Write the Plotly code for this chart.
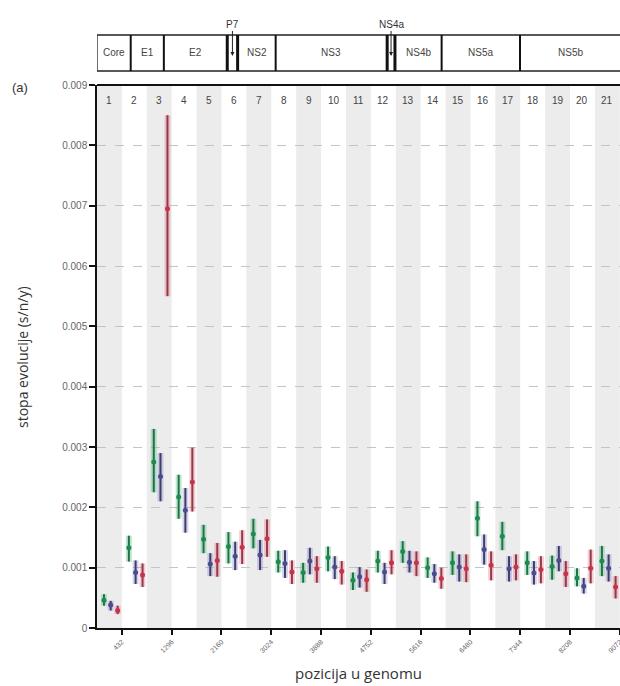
import plotly.graph_objects as go

# Genomic windows (each window = 432 nt), numbered 1..21
window_size = 432
window_ids = list(range(1, 22))

# Evolutionary rate (subst./nt/year): posterior mean with lower / upper bounds
rate_green = [0.00046, 0.00133, 0.00275, 0.00217, 0.00147, 0.00135, 0.00156, 0.00110, 0.00092, 0.00117, 0.00079,
              0.00111, 0.00127, 0.00100, 0.00108, 0.00182, 0.00152, 0.00108, 0.00102, 0.00083, 0.00111]
low_green = [0.00037, 0.00110, 0.00225, 0.00181, 0.00124, 0.00107, 0.00132, 0.00092, 0.00075, 0.00094, 0.00063,
             0.00092, 0.00108, 0.00083, 0.00088, 0.00152, 0.00129, 0.00088, 0.00080, 0.00069, 0.00086]
high_green = [0.00056, 0.00153, 0.00330, 0.00254, 0.00171, 0.00159, 0.00181, 0.00128, 0.00108, 0.00135, 0.00092,
              0.00128, 0.00144, 0.00117, 0.00127, 0.00210, 0.00176, 0.00127, 0.00120, 0.00099, 0.00136]

rate_blue = [0.00038, 0.00092, 0.00251, 0.00195, 0.00106, 0.00119, 0.00121, 0.00107, 0.00111, 0.00101, 0.00085,
             0.00093, 0.00109, 0.00090, 0.00101, 0.00130, 0.00098, 0.00091, 0.00112, 0.00069, 0.00099]
low_blue = [0.00029, 0.00073, 0.00210, 0.00158, 0.00086, 0.00096, 0.00096, 0.00083, 0.00089, 0.00081, 0.00067,
            0.00073, 0.00092, 0.00075, 0.00077, 0.00105, 0.00077, 0.00072, 0.00094, 0.00057, 0.00077]
high_blue = [0.00045, 0.00112, 0.00290, 0.00232, 0.00124, 0.00143, 0.00146, 0.00129, 0.00133, 0.00119, 0.00101,
             0.00108, 0.00128, 0.00106, 0.00122, 0.00155, 0.00119, 0.00111, 0.00136, 0.00083, 0.00122]

rate_red = [0.00029, 0.00088, 0.00695, 0.00242, 0.00112, 0.00134, 0.00148, 0.00093, 0.00098, 0.00094, 0.00080,
            0.00108, 0.00108, 0.00082, 0.00098, 0.00104, 0.00101, 0.00097, 0.00090, 0.00099, 0.00068]
low_red = [0.00023, 0.00068, 0.00550, 0.00193, 0.00085, 0.00106, 0.00118, 0.00073, 0.00075, 0.00072, 0.00060,
           0.00089, 0.00086, 0.00065, 0.00076, 0.00079, 0.00079, 0.00074, 0.00068, 0.00074, 0.00049]
high_red = [0.00037, 0.00107, 0.00850, 0.00299, 0.00141, 0.00162, 0.00180, 0.00112, 0.00119, 0.00111, 0.00097,
            0.00129, 0.00127, 0.00100, 0.00122, 0.00127, 0.00122, 0.00119, 0.00111, 0.00130, 0.00086]

# Axis ticks (genome position)
x_ticks = [432, 1296, 2160, 3024, 3888, 4752, 5616, 6480, 7344, 8208, 9072]
y_ticks = [0, 0.001, 0.002, 0.003, 0.004, 0.005, 0.006, 0.007, 0.008, 0.009]
y_tick_text = ["0", "0.001", "0.002", "0.003", "0.004", "0.005", "0.006", "0.007", "0.008", "0.009"]

# Gene map: boundaries (nt) and names
gene_names = ["Core", "E1", "E2", "P7", "NS2", "NS3", "NS4a", "NS4b", "NS5a", "NS5b"]
gene_starts = [0, 585, 1160, 2260, 2440, 3100, 5035, 5170, 5980, 7340]
gene_end = 9100
small_genes = ["P7", "NS4a"]

X_MAX = 9075
Y_MAX = 0.009
LEFT = 97
PLOT_W = 620 - LEFT
PLOT_TOP, PLOT_BOTTOM = 85, 628
PLOT_H = PLOT_BOTTOM - PLOT_TOP


def paper_y(py):
    return (PLOT_BOTTOM - py) / PLOT_H


def paper_x(px):
    return (px - LEFT) / PLOT_W


series = [
    (rate_green, low_green, high_green, 0.28, "#1f8a4f", "#22704a", "rgba(70,185,120,0.35)"),
    (rate_blue, low_blue, high_blue, 0.55, "#4b4b8e", "#3d3d68", "rgba(120,120,200,0.32)"),
    (rate_red, low_red, high_red, 0.83, "#c8324a", "#8e3a4c", "rgba(235,110,125,0.35)"),
]

fig = go.Figure()

for mean, lo, hi, frac, mcol, lcol, bandcol in series:
    xs = [(w - 1 + frac) * window_size for w in window_ids]
    plus = [h - m for h, m in zip(hi, mean)]
    minus = [m - l for m, l in zip(mean, lo)]
    # wide translucent interval
    fig.add_trace(go.Scatter(
        x=xs, y=mean, mode="markers", marker=dict(size=1, opacity=0),
        error_y=dict(type="data", symmetric=False, array=plus, arrayminus=minus,
                     width=0, thickness=6, color=bandcol),
        hoverinfo="skip", showlegend=False))
    # thin dark interval + point
    fig.add_trace(go.Scatter(
        x=xs, y=mean, mode="markers",
        marker=dict(size=5, color=mcol, symbol="circle"),
        error_y=dict(type="data", symmetric=False, array=plus, arrayminus=minus,
                     width=0, thickness=2, color=lcol),
        showlegend=False))

shapes = []
# alternating grey window background
for w in window_ids:
    if w % 2 == 1:
        shapes.append(dict(type="rect", xref="x", yref="paper",
                           x0=(w - 1) * window_size, x1=w * window_size, y0=0, y1=1,
                           fillcolor="#ececec", line=dict(width=0), layer="below"))
# top frame line at 0.009
shapes.append(dict(type="line", xref="paper", yref="paper", x0=0, x1=1.01, y0=1, y1=1,
                   line=dict(color="#111", width=2)))

# gene map box
box_top, box_bot = paper_y(35), paper_y(71)
shapes.append(dict(type="rect", xref="x", yref="paper", x0=gene_starts[0], x1=gene_end,
                   y0=box_bot, y1=box_top, line=dict(color="#222", width=1.3),
                   fillcolor="rgba(0,0,0,0)"))
for i, start in enumerate(gene_starts[1:], start=1):
    thick = gene_names[i] in small_genes or gene_names[i - 1] in small_genes
    shapes.append(dict(type="line", xref="x", yref="paper", x0=start, x1=start,
                       y0=box_bot, y1=box_top,
                       line=dict(color="#111", width=3 if thick else 2)))

label_font = dict(family="Liberation Sans, Arial", size=10, color="#444")
annotations = []
gene_ends = gene_starts[1:] + [gene_end]
for name, s, e in zip(gene_names, gene_starts, gene_ends):
    c = (s + e) / 2
    if name in small_genes:
        annotations.append(dict(x=c, y=paper_y(56), xref="x", yref="paper",
                                text=name, showarrow=True, arrowhead=2, arrowsize=0.8,
                                arrowwidth=1, arrowcolor="#222", ax=0, ay=-32,
                                font=dict(family="Liberation Sans, Arial", size=10, color="#333")))
    else:
        annotations.append(dict(x=c, y=paper_y(53), xref="x", yref="paper", text=name,
                                showarrow=False, xanchor="center", yanchor="middle",
                                font=label_font))

# window numbers
for w in window_ids:
    annotations.append(dict(x=(w - 0.5) * window_size, y=paper_y(100), xref="x", yref="paper",
                            text=str(w), showarrow=False, xanchor="center", yanchor="middle",
                            font=label_font))

annotations.append(dict(x=paper_x(20), y=paper_y(88), xref="paper", yref="paper",
                        xanchor="center", yanchor="middle", text="(a)", showarrow=False,
                        font=dict(family="Liberation Sans, Arial", size=13, color="#333")))
annotations.append(dict(x=paper_x(22), y=paper_y(357), xref="paper", yref="paper",
                        xanchor="center", yanchor="middle",
                        text="stopa evolucije (s/n/y)", textangle=-90, showarrow=False,
                        font=dict(family="Open Sans, Noto Sans", size=14, color="#333")))
annotations.append(dict(x=paper_x(358), y=paper_y(673), xref="paper", yref="paper",
                        xanchor="center", yanchor="middle",
                        text="pozicija u genomu", showarrow=False,
                        font=dict(family="Open Sans, Noto Sans", size=15, color="#333")))

fig.update_layout(
    width=620, height=686,
    margin=dict(l=LEFT, r=0, t=PLOT_TOP, b=686 - PLOT_BOTTOM, pad=0, autoexpand=False),
    plot_bgcolor="white", paper_bgcolor="white",
    shapes=shapes, annotations=annotations,
    xaxis=dict(range=[0, X_MAX], tickmode="array", tickvals=x_ticks,
               ticktext=[str(t) for t in x_ticks], tickangle=-45,
               ticklabeloverflow="allow", automargin=False,
               tickfont=dict(family="Liberation Sans, Arial", size=7, color="#666"),
               showgrid=False, zeroline=False, showline=True, linecolor="#111", linewidth=2,
               ticks="outside", ticklen=5, tickcolor="#111", tickwidth=1.5),
    yaxis=dict(range=[0, Y_MAX], tickmode="array", tickvals=y_ticks, ticktext=y_tick_text,
               automargin=False,
               tickfont=dict(family="Liberation Sans, Arial", size=10, color="#666"),
               showgrid=True, gridcolor="#c4c4c4", griddash="dash", gridwidth=1,
               zeroline=False, showline=True, linecolor="#111", linewidth=1.5,
               ticks="outside", ticklen=6, tickcolor="#111", tickwidth=1.5),
    showlegend=False,
)

fig.write_html("out.html")
